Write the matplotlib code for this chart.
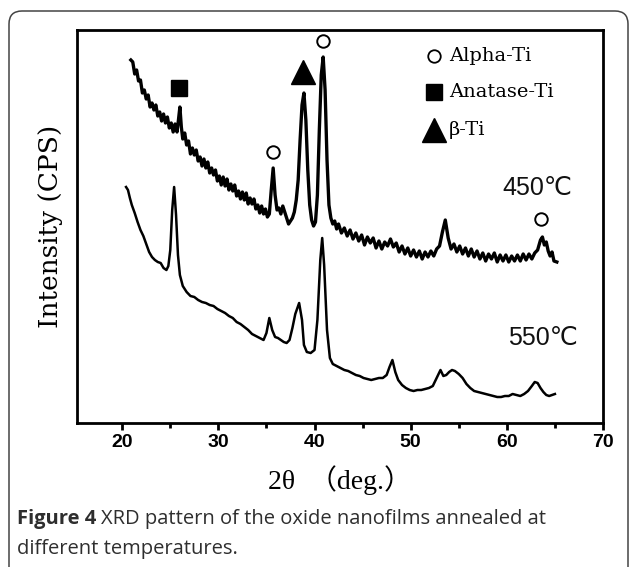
import matplotlib
matplotlib.use("Agg")
import matplotlib.pyplot as plt
from matplotlib.patches import FancyBboxPatch
from matplotlib.transforms import IdentityTransform
from matplotlib.ticker import MultipleLocator

# ---------------- data (2theta in deg, intensity in arbitrary CPS) ----------------
t450 = [20.9, 21.1, 21.3, 21.5, 21.7, 21.9, 22.1, 22.3, 22.5, 22.7, 22.9, 23.1, 23.3, 23.5, 23.7,
        23.9, 24.1, 24.3, 24.5, 24.7, 24.9, 25.1, 25.3, 25.5, 25.7, 25.85, 26.0, 26.15, 26.3, 26.5,
        26.7, 26.9, 27.1, 27.3, 27.5, 27.7, 27.9, 28.1, 28.3, 28.5, 28.7, 28.9, 29.1, 29.3, 29.5,
        29.7, 29.9, 30.1, 30.3, 30.5, 30.7, 30.9, 31.1, 31.3, 31.5, 31.7, 31.9, 32.1, 32.3, 32.5,
        32.7, 32.9, 33.1, 33.3, 33.5, 33.7, 33.9, 34.1, 34.3, 34.5, 34.7, 34.9, 35.1, 35.3, 35.5,
        35.7, 35.9, 36.1, 36.3, 36.5, 36.7, 36.9, 37.1, 37.3, 37.5, 37.7, 37.9, 38.1, 38.3, 38.5,
        38.7, 38.9, 39.1, 39.3, 39.5, 39.7, 39.9, 40.1, 40.3, 40.5, 40.7, 40.9, 41.1, 41.3, 41.5,
        41.7, 41.9, 42.1, 42.3, 42.5, 42.8, 43.1, 43.4, 43.7, 44.0, 44.3, 44.6, 44.9, 45.2, 45.5,
        45.8, 46.1, 46.4, 46.7, 47.0, 47.3, 47.6, 47.9, 48.2, 48.5, 48.8, 49.1, 49.4, 49.7, 50.0,
        50.3, 50.6, 50.9, 51.2, 51.5, 51.8, 52.1, 52.4, 52.7, 53.0, 53.3, 53.6, 53.9, 54.2, 54.5,
        54.8, 55.1, 55.4, 55.7, 56.0, 56.3, 56.6, 56.9, 57.2, 57.5, 57.8, 58.1, 58.4, 58.7, 59.0,
        59.3, 59.6, 59.9, 60.2, 60.5, 60.8, 61.1, 61.4, 61.7, 62.0, 62.3, 62.6, 62.9, 63.2, 63.5,
        63.7, 63.9, 64.1, 64.3, 64.5, 64.7, 64.9, 65.2]
i450 = [363, 361, 349, 353, 342, 343, 330, 333, 324, 328, 316, 320, 313, 318, 307,
        311, 302, 309, 300, 306, 295, 300, 291, 299, 291, 303, 316, 296, 284, 290,
        278, 282, 269, 275, 268, 273, 262, 266, 257, 264, 255, 261, 250, 255, 248,
        253, 242, 247, 238, 246, 237, 244, 233, 239, 232, 238, 227, 232, 224, 231,
        223, 230, 219, 225, 219, 224, 214, 218, 210, 217, 209, 214, 206, 209, 233,
        255, 228, 213, 215, 209, 217, 211, 205, 199, 202, 205, 211, 223, 243, 283,
        318, 330, 303, 253, 218, 203, 197, 201, 228, 293, 348, 366, 333, 263, 218,
        205, 199, 202, 194, 199, 190, 195, 187, 193, 184, 190, 182, 188, 178, 186,
        180, 185, 175, 182, 174, 181, 177, 184, 176, 180, 171, 177, 169, 175, 167,
        173, 166, 172, 164, 171, 166, 172, 167, 174, 177, 191, 203, 185, 174, 179,
        171, 177, 169, 175, 167, 174, 166, 172, 164, 170, 162, 169, 164, 170, 161,
        168, 162, 168, 161, 167, 162, 168, 162, 169, 163, 169, 164, 170, 173, 183,
        186, 178, 181, 172, 167, 171, 162, 161]

t550 = [20.4, 20.6, 20.8, 21.0, 21.3, 21.6, 21.9, 22.2, 22.5, 22.8, 23.1, 23.4, 23.7, 24.0, 24.3,
        24.6, 24.8, 25.0, 25.2, 25.4, 25.6, 25.8, 26.0, 26.3, 26.7, 27.1, 27.5, 27.9, 28.3, 28.7,
        29.1, 29.5, 29.9, 30.3, 30.7, 31.1, 31.5, 31.9, 32.3, 32.7, 33.1, 33.5, 33.9, 34.3, 34.7,
        35.0, 35.3, 35.6, 35.9, 36.2, 36.5, 36.8, 37.1, 37.4, 37.7, 38.0, 38.4, 38.7, 38.9, 39.2,
        39.6, 40.0, 40.3, 40.6, 40.8, 41.0, 41.3, 41.6, 41.9, 42.3, 42.7, 43.1, 43.5, 43.9, 44.3,
        44.7, 45.1, 45.5, 45.9, 46.3, 46.7, 47.1, 47.5, 47.8, 48.1, 48.4, 48.7, 49.1, 49.5, 49.9,
        50.3, 50.7, 51.1, 51.5, 51.9, 52.3, 52.7, 53.1, 53.4, 53.7, 54.0, 54.3, 54.6, 55.0, 55.4,
        55.8, 56.2, 56.6, 57.0, 57.4, 57.8, 58.2, 58.6, 59.0, 59.4, 59.8, 60.2, 60.6, 61.0, 61.4,
        61.8, 62.2, 62.6, 62.9, 63.2, 63.5, 63.8, 64.1, 64.4, 64.7, 65.0]
i550 = [236, 233, 225, 218, 210, 201, 193, 187, 179, 171, 166, 163, 161, 160, 155,
        153, 157, 173, 213, 236, 208, 168, 148, 137, 131, 127, 126, 123, 121, 120,
        118, 117, 114, 112, 110, 107, 105, 101, 99, 96, 93, 89, 87, 85, 83,
        90, 105, 93, 86, 85, 83, 81, 80, 83, 95, 109, 120, 103, 78, 71,
        70, 73, 103, 163, 185, 158, 93, 65, 59, 57, 55, 53, 52, 50, 48,
        47, 45, 44, 43, 44, 45, 45, 48, 56, 63, 51, 43, 38, 35, 33,
        32, 33, 33, 34, 35, 37, 45, 53, 47, 48, 51, 53, 52, 49, 45,
        39, 35, 32, 31, 30, 29, 28, 27, 26, 26, 27, 27, 29, 28, 27,
        29, 32, 37, 41, 40, 35, 31, 28, 27, 28, 29]

# peak markers (2theta, intensity)
alpha_x = [35.7, 40.9, 63.6]
alpha_y = [271, 382, 204]
anatase_x = [25.93]
anatase_y = [335]
beta_x = [38.8]
beta_y = [351]

label_450 = "450\u2103"
label_550 = "550\u2103"
legend_labels = ["Alpha-Ti", "Anatase-Ti", "\u03b2-Ti"]
xticks = [20, 30, 40, 50, 60, 70]

# ---------------- figure ----------------
W, H, DPI = 629, 567, 100
fig = plt.figure(figsize=(W / DPI, H / DPI), dpi=DPI)
fig.patch.set_facecolor("white")

# rounded outer frame (pixel coordinates)
frame = FancyBboxPatch((9, -20), 619, H - 11 + 20,
                       boxstyle="round,pad=0,rounding_size=13",
                       transform=IdentityTransform(), fill=False,
                       edgecolor="#444444", linewidth=1.1)
fig.patches.append(frame)

L, R, T, B = 77, 603, 30, 423
ax = fig.add_axes([L / W, 1 - B / H, (R - L) / W, (B - T) / H])
ax.set_xlim(15.3, 70)
ax.set_ylim(0, 393)

ax.plot(t450, i450, color="black", lw=2.4)
ax.plot(t550, i550, color="black", lw=1.8)

ax.plot(alpha_x, alpha_y, ls="none", marker="o", ms=9, mfc="white", mec="black", mew=1.4)
ax.plot(anatase_x, anatase_y, ls="none", marker="s", ms=11, mfc="black", mec="black")
ax.plot(beta_x, beta_y, ls="none", marker="^", ms=17, mfc="black", mec="black")

for s in ax.spines.values():
    s.set_linewidth(2.0)
ax.set_yticks([])
ax.set_xticks(xticks)
ax.xaxis.set_minor_locator(MultipleLocator(5))
ax.tick_params(axis="x", which="major", direction="out", length=5, width=2, pad=3,
               top=False)
ax.tick_params(axis="x", which="minor", direction="out", length=3.5, width=2, top=False)
for lab in ax.get_xticklabels():
    lab.set_fontfamily("Liberation Sans")
    lab.set_fontweight("bold")
    lab.set_fontsize(14)

ax.set_xlabel("2\u03b8  \uff08deg.\uff09", family=["Liberation Serif", "Noto Sans CJK SC"],
              fontsize=20, labelpad=10)
ax.set_ylabel("Intensity (CPS)", family=["DejaVu Serif"], fontsize=19, labelpad=10)

def fx(px):
    return (px - L) / (R - L)

def fy(py):
    return (B - py) / (B - T)

ax.text(fx(537), fy(188), label_450, transform=ax.transAxes, ha="center", va="center",
        fontsize=18, family=["Liberation Sans", "DejaVu Sans"], color="#111111")
ax.text(fx(543), fy(338), label_550, transform=ax.transAxes, ha="center", va="center",
        fontsize=18, family=["Liberation Sans", "DejaVu Sans"], color="#111111")

# legend drawn as marker + text
leg_y = [56, 92, 130]
leg_markers = [dict(marker="o", ms=9, mfc="white", mec="black", mew=1.3),
               dict(marker="s", ms=12, mfc="black", mec="black"),
               dict(marker="^", ms=17, mfc="black", mec="black")]
for ly, lab, mk in zip(leg_y, legend_labels, leg_markers):
    ax.plot([fx(434)], [fy(ly)], transform=ax.transAxes, ls="none", clip_on=False, **mk)
    ax.text(fx(449), fy(ly), lab, transform=ax.transAxes, ha="left", va="center",
            fontsize=14, family=["DejaVu Serif"])

# caption
cap_kw = dict(fontsize=14.5, family=["Open Sans"], color="#2e2e2e", va="center")
t1 = fig.text(17 / W, 1 - 519 / H, "Figure 4", fontweight="bold", **cap_kw)
fig.canvas.draw()
bb = t1.get_window_extent()
fig.text(bb.x1 / W + 5 / W, 1 - 519 / H, "XRD pattern of the oxide nanofilms annealed at", **cap_kw)
fig.text(17 / W, 1 - 549 / H, "different temperatures.", **cap_kw)

fig.savefig("out.png", dpi=DPI)
